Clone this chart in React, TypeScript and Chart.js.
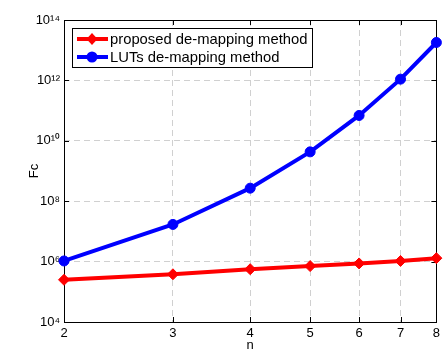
import React, { useEffect, useRef } from 'react';
import { Chart, registerables } from 'chart.js';

Chart.register(...registerables);

const nValues = [2, 3, 4, 5, 6, 7, 8];
const proposedFc = [2.5e5, 3.8e5, 5.6e5, 7.1e5, 8.7e5, 1.05e6, 1.3e6];
const lutFc = [1.05e6, 1.7e7, 2.7e8, 4.3e9, 6.9e10, 1.1e12, 1.8e13];
const seriesLabels = ['proposed de-mapping method', 'LUTs de-mapping method'];
const xTickValues = [2, 3, 4, 5, 6, 7, 8];
const yTickValues = [1e4, 1e6, 1e8, 1e10, 1e12, 1e14];
const yTickLabels = ['10⁴', '10⁶', '10⁸', '10¹⁰', '10¹²', '10¹⁴'];
const xTitle = 'n';
const yTitle = 'Fc';

const FONT = 'Arial, "Liberation Sans", Helvetica, sans-serif';

export default function App() {
  const ref = useRef<HTMLCanvasElement>(null);

  useEffect(() => {
    if (!ref.current) return;

    const framePlugin = {
      id: 'frame',
      beforeDatasetsDraw(chart: any) {
        const { ctx, chartArea } = chart;
        const { left, right, top, bottom } = chartArea;
        ctx.save();
        ctx.strokeStyle = '#000';
        ctx.lineWidth = 1;
        ctx.setLineDash([]);
        ctx.strokeRect(Math.round(left) + 0.5, Math.round(top) + 0.5, Math.round(right - left), Math.round(bottom - top));
        const xs = chart.scales.x;
        const ys = chart.scales.y;
        const tl = 5;
        ctx.beginPath();
        xTickValues.slice(1, -1).forEach((v) => {
          const px = Math.round(xs.getPixelForValue(v)) + 0.5;
          ctx.moveTo(px, bottom);
          ctx.lineTo(px, bottom - tl);
          ctx.moveTo(px, top);
          ctx.lineTo(px, top + tl);
        });
        yTickValues.slice(1, -1).forEach((v) => {
          const py = Math.round(ys.getPixelForValue(v)) + 0.5;
          ctx.moveTo(left, py);
          ctx.lineTo(left + tl, py);
          ctx.moveTo(right, py);
          ctx.lineTo(right - tl, py);
        });
        ctx.stroke();
        ctx.restore();
      },
      afterDatasetsDraw(chart: any) {
        const { ctx } = chart;
        const bx = 72, by = 28, bw = 240, bh = 39;
        ctx.save();
        ctx.fillStyle = '#fff';
        ctx.fillRect(bx, by, bw, bh);
        ctx.strokeStyle = '#000';
        ctx.lineWidth = 1;
        ctx.setLineDash([]);
        ctx.strokeRect(bx + 0.5, by + 0.5, bw, bh);
        const rows = [39, 57];
        chart.data.datasets.forEach((ds: any, i: number) => {
          const y = rows[i];
          ctx.strokeStyle = ds.borderColor;
          ctx.lineWidth = 4;
          ctx.beginPath();
          ctx.moveTo(77, y);
          ctx.lineTo(108, y);
          ctx.stroke();
          ctx.fillStyle = ds.borderColor;
          ctx.beginPath();
          if (ds.pointStyle === 'rectRot') {
            ctx.moveTo(92, y - 6);
            ctx.lineTo(97.5, y);
            ctx.lineTo(92, y + 6);
            ctx.lineTo(86.5, y);
            ctx.closePath();
          } else {
            ctx.arc(92, y, 5.5, 0, Math.PI * 2);
          }
          ctx.fill();
          ctx.fillStyle = '#000';
          ctx.font = `14.8px ${FONT}`;
          ctx.textBaseline = 'middle';
          ctx.textAlign = 'left';
          ctx.fillText(ds.label, 110, y + 1);
        });
        ctx.restore();
      },
    };

    const gridColor = (c: any) => {
      const n = c.chart ? 0 : 0;
      return c.index === 0 || (c.scale && c.index === c.scale.ticks.length - 1) ? 'rgba(0,0,0,0)' : '#d0d0d0';
    };

    const chart = new Chart(ref.current, {
      type: 'line',
      data: {
        datasets: [
          {
            label: seriesLabels[0],
            data: nValues.map((n, i) => ({ x: n, y: proposedFc[i] })),
            borderColor: '#ff0000',
            backgroundColor: '#ff0000',
            borderWidth: 4,
            pointStyle: 'rectRot',
            pointRadius: 5.5,
            pointBorderWidth: 1,
            pointBackgroundColor: '#ff0000',
            pointBorderColor: '#ff0000',
            clip: false,
            tension: 0,
          } as any,
          {
            label: seriesLabels[1],
            data: nValues.map((n, i) => ({ x: n, y: lutFc[i] })),
            borderColor: '#0000ff',
            backgroundColor: '#0000ff',
            borderWidth: 4,
            pointStyle: 'circle',
            pointRadius: 5,
            pointBorderWidth: 1,
            pointBackgroundColor: '#0000ff',
            pointBorderColor: '#0000ff',
            clip: false,
            tension: 0,
          } as any,
        ],
      },
      options: {
        responsive: false,
        animation: false,
        devicePixelRatio: 1,
        layout: { padding: { top: 20, right: 3, left: 0, bottom: 0 } },
        plugins: {
          legend: { display: false },
          tooltip: { enabled: false },
        },
        scales: {
          x: {
            type: 'logarithmic',
            min: 2,
            max: 8,
            afterBuildTicks: (scale: any) => {
              scale.ticks = xTickValues.map((v) => ({ value: v }));
            },
            afterFit: (scale: any) => {
              scale.height = 32;
            },
            ticks: {
              autoSkip: false,
              maxRotation: 0,
              padding: 4,
              color: '#000',
              font: { family: FONT, size: 13 },
              callback: (v: any) => String(v),
            },
            grid: { color: gridColor, drawTicks: false, lineWidth: 1 },
            border: { display: false, dash: [6, 4] },
            title: {
              display: true,
              text: xTitle,
              color: '#000',
              font: { family: FONT, size: 13 },
              padding: { top: 0, bottom: 1 },
            },
          },
          y: {
            type: 'logarithmic',
            min: 1e4,
            max: 1e14,
            afterBuildTicks: (scale: any) => {
              scale.ticks = yTickValues.map((v) => ({ value: v }));
            },
            afterFit: (scale: any) => {
              scale.width = 64;
            },
            ticks: {
              autoSkip: false,
              padding: 4,
              color: '#000',
              font: { family: FONT, size: 13 },
              callback: (v: any) => {
                const i = yTickValues.findIndex((t) => Math.abs(Math.log10(t) - Math.log10(v)) < 1e-6);
                return i >= 0 ? yTickLabels[i] : '';
              },
            },
            grid: { color: gridColor, drawTicks: false, lineWidth: 1 },
            border: { display: false, dash: [6, 4] },
            title: {
              display: true,
              text: yTitle,
              color: '#000',
              font: { family: FONT, size: 13 },
              padding: { top: 27, bottom: 0 },
            },
          },
        },
      } as any,
      plugins: [framePlugin],
    });

    return () => chart.destroy();
  }, []);

  return (
    <div style={{ position: 'fixed', left: 0, top: 0, width: 444, height: 354, background: '#fff' }}>
      <canvas ref={ref} width={444} height={354} style={{ display: 'block' }} />
    </div>
  );
}
